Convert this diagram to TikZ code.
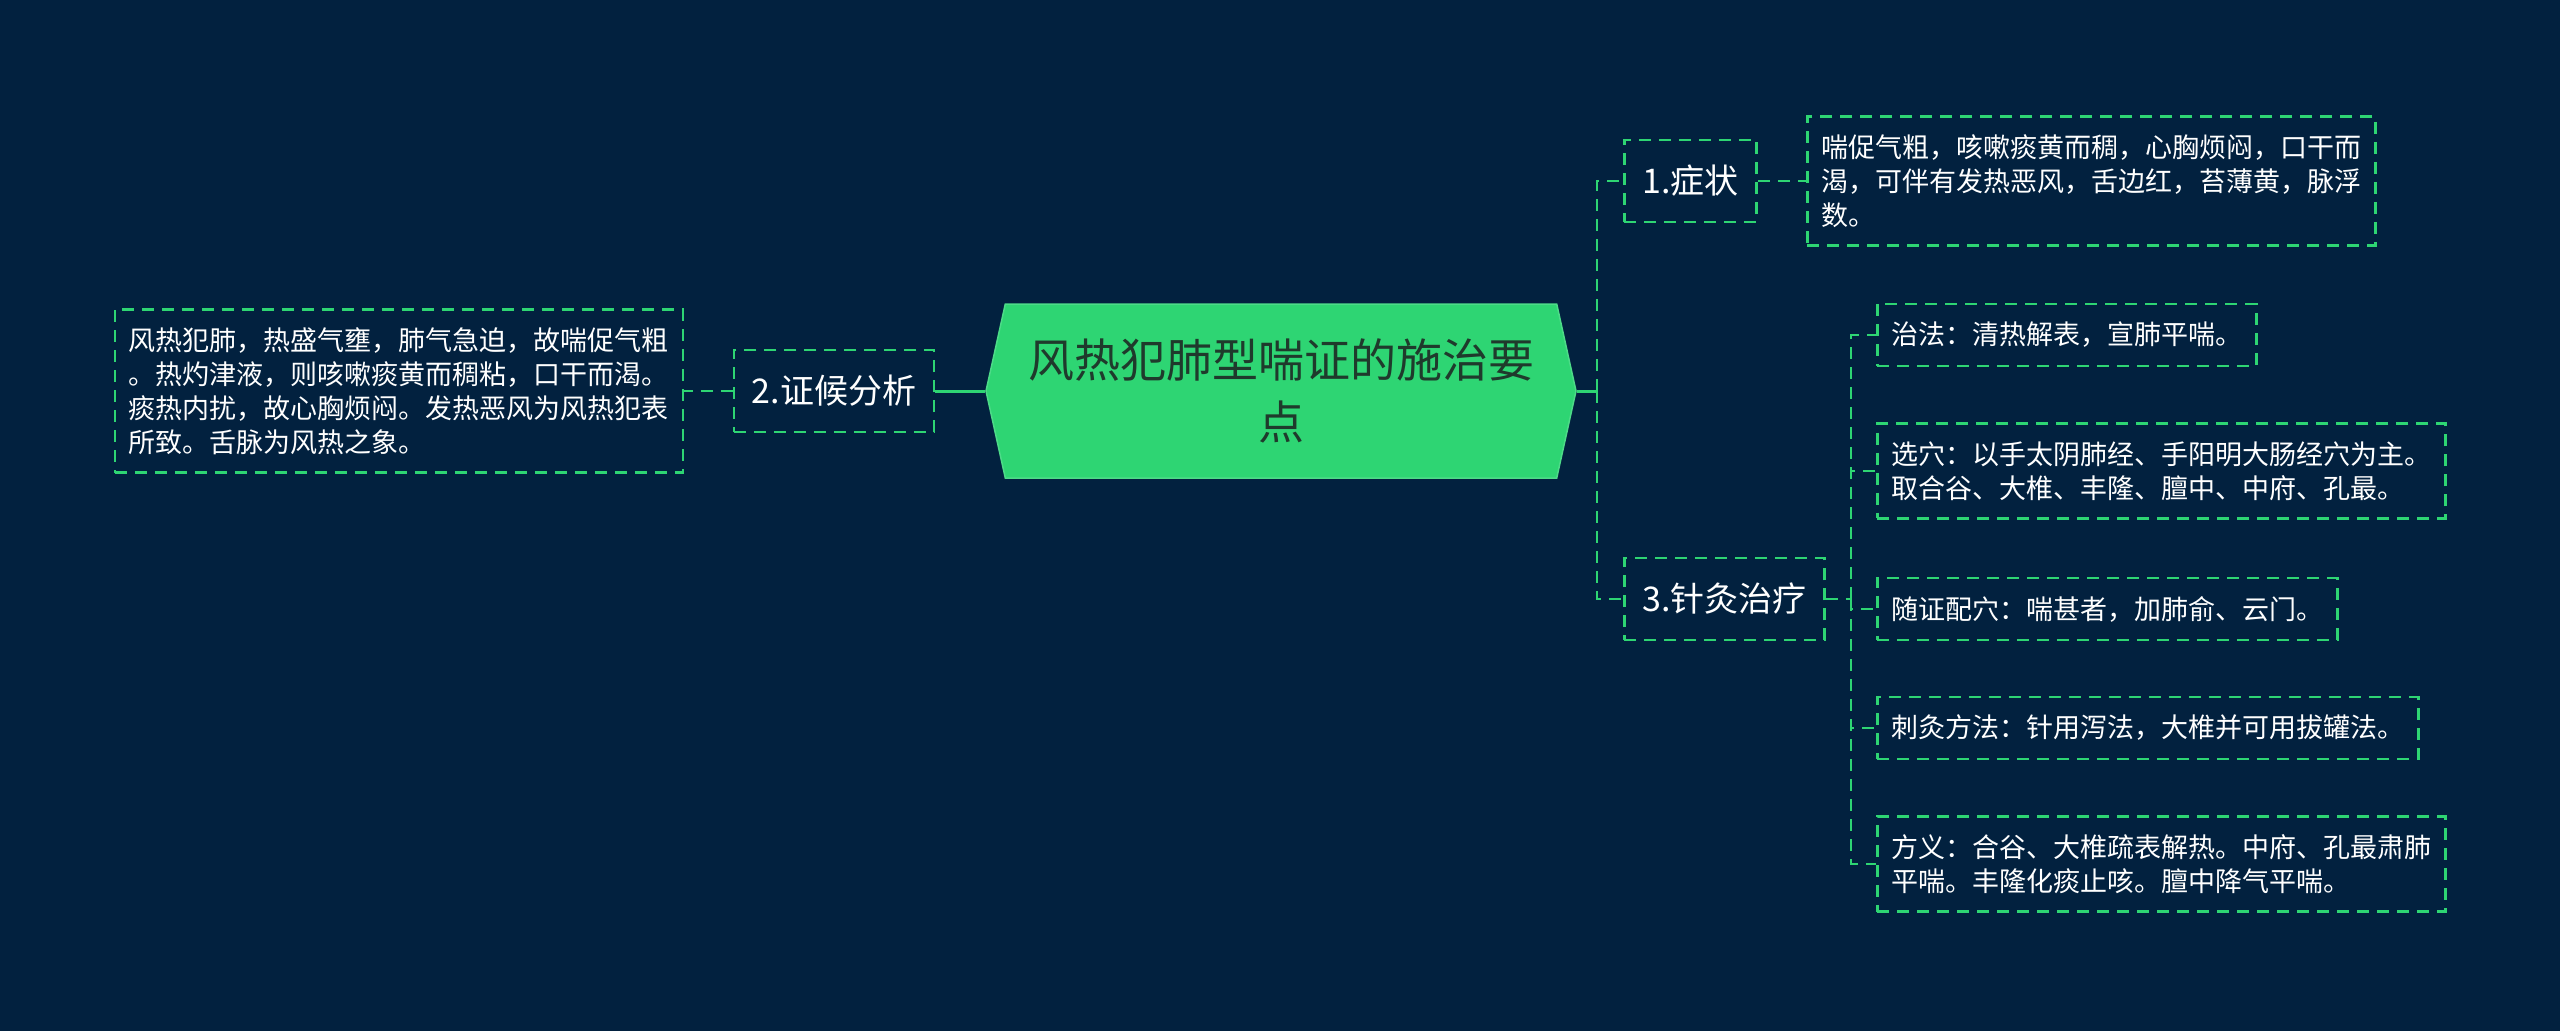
\documentclass[tikz,border=0pt]{standalone}
\usepackage{fontspec}
\setmainfont{Noto Sans CJK SC}
\usetikzlibrary{shapes.symbols}
\definecolor{mapbg}{HTML}{02213F}
\definecolor{mapgreen}{HTML}{2ED573}
\definecolor{mapink}{HTML}{1F3A2C}
\tikzset{
  topic/.style={shape=signal, signal to=west and east, signal pointer angle=155,
    fill=mapgreen, draw=mapgreen!85!white, line width=1.5pt,
    minimum width=590pt, minimum height=174pt, inner sep=0pt, align=center,
    text=mapink, font=\fontsize{46pt}{62pt}\selectfont},
  branch/.style={draw=mapgreen, dash pattern=on 12pt off 8pt, line width=2.5pt,
    text=white, inner xsep=18pt, inner ysep=0pt, minimum height=82pt,
    font=\fontsize{34pt}{40pt}\selectfont},
  leaf/.style={draw=mapgreen, dash pattern=on 12pt off 8pt, line width=2.5pt,
    text=white, align=left, inner xsep=14pt, inner ysep=18pt,
    font=\fontsize{27pt}{34pt}\selectfont},
  trunk/.style={draw=mapgreen, line width=3pt},
  twig/.style={draw=mapgreen, line width=2.5pt, dash pattern=on 12pt off 8pt},
}

\begin{document}
\begin{tikzpicture}[x=1pt, y=-1pt]
    \fill[mapbg] (0,0) rectangle (2560,1031);
    \useasboundingbox (0,0) rectangle (2560,1031);

    % ---- centre
    \node[topic] (root) at (1281,391) {风热犯肺型喘证的施治要\\点};

    % ---- left side
    \node[branch] (analysis) at (834,391) {2.证候分析};
    \node[leaf, anchor=east] (cause) at (684,391)
      {风热犯肺，热盛气壅，肺气急迫，故喘促气粗\\。热灼津液，则咳嗽痰黄而稠粘，口干而渴。\\痰热内扰，故心胸烦闷。发热恶风为风热犯表\\所致。舌脉为风热之象。};

    % ---- right side
    \node[branch, anchor=west] (symp) at (1623,181) {1.症状};
    \node[leaf, anchor=west] (sympText) at (1806,181)
      {喘促气粗，咳嗽痰黄而稠，心胸烦闷，口干而\\渴，可伴有发热恶风，舌边红，苔薄黄，脉浮\\数。};
    \node[branch, anchor=west] (acup) at (1623,599) {3.针灸治疗};

    \node[leaf, anchor=west] (fa) at (1876,335) {治法：清热解表，宣肺平喘。};
    \node[leaf, anchor=west] (xue) at (1876,471)
      {选穴：以手太阴肺经、手阳明大肠经穴为主。\\取合谷、大椎、丰隆、膻中、中府、孔最。};
    \node[leaf, anchor=west] (pei) at (1876,609) {随证配穴：喘甚者，加肺俞、云门。};
    \node[leaf, anchor=west] (ci) at (1876,728) {刺灸方法：针用泻法，大椎并可用拔罐法。};
    \node[leaf, anchor=west] (yi) at (1876,864)
      {方义：合谷、大椎疏表解热。中府、孔最肃肺\\平喘。丰隆化痰止咳。膻中降气平喘。};

    % ---- connectors
    \draw[trunk] (root.west) -- (analysis.east);
    \draw[twig] (analysis.west) -- (cause.east);

    \coordinate (rj) at (1597,391);
    \draw[trunk] (root.east) -- (rj);
    \draw[twig] (rj) |- (symp.west);
    \draw[twig] (rj) |- (acup.west);
    \draw[twig] (symp.east) -- (sympText.west);

    \coordinate (aj) at (1851,599);
    \draw[twig] (acup.east) -- (aj);
    \foreach \n in {fa,xue,pei,ci,yi}
      \draw[twig] (aj) |- (\n.west);
\end{tikzpicture}
\end{document}
